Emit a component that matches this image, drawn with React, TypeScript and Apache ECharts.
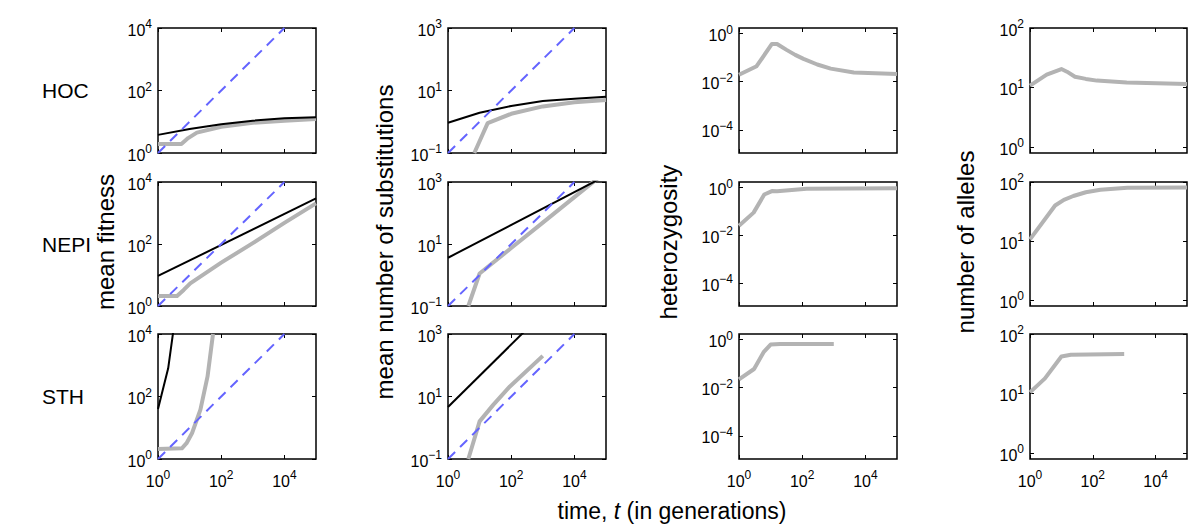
import React, { useEffect, useRef } from 'react';
import * as echarts from 'echarts';

const FONT = '"Liberation Sans", Arial, Helvetica, sans-serif';

// ---- labels ----
const rowNames = ['HOC', 'NEPI', 'STH'];
const yTitles = ['mean fitness', 'mean number of substitutions', 'heterozygosity', 'number of alleles'];

// ---- axes ----
const xRange = [1, 1e5];
const xTickValues = [1, 100, 10000];
const yRanges = [[1, 1e4], [0.1, 1000], [1.1e-5, 1.7], [0.8, 100]];
const yTickValues = [[1, 100, 10000], [0.1, 10, 1000], [1e-4, 1e-2, 1], [1, 10, 100]];

// ---- reference (dashed) lines ----
const refFitness = [[1, 1], [1e4, 1e4]];
const refSubst = [[1, 0.1], [1e4, 1000]];

// ---- HOC ----
const hocFitnessBlack = [[1, 3.8], [10, 5.9], [100, 8.3], [1000, 10.8], [1e4, 12.9], [1e5, 14]];
const hocFitnessGray = [[1, 1.95], [5.5, 1.95], [9, 3.0], [17, 4.5], [100, 6.9], [1000, 9.3], [1e4, 10.8], [1e5, 12.3]];
const hocSubstBlack = [[1, 0.93], [10, 1.95], [100, 3.2], [1000, 4.6], [1e4, 5.4], [1e5, 6.3]];
const hocSubstGray = [[6.8, 0.1], [18, 0.9], [100, 1.8], [1000, 3.1], [1e4, 4.2], [1e5, 5.0]];
const hocHetGray = [[1, 0.0195], [3.6, 0.044], [11, 0.37], [16, 0.37], [32, 0.21], [60, 0.13], [110, 0.089], [300, 0.052], [800, 0.035], [4300, 0.024], [1e5, 0.021]];
const hocAllelesGray = [[1, 10.8], [3.4, 16.5], [10, 20.5], [15, 18.5], [27, 15.2], [60, 14], [135, 13.1], [1200, 12.2], [1e5, 11.5]];

// ---- NEPI ----
const nepiFitnessBlack = [[1, 9.3], [1e5, 2950]];
const nepiFitnessGray = [[1, 2.1], [4, 2.1], [6.5, 3.3], [10.5, 5.4], [100, 25], [1000, 107], [1e4, 480], [1e5, 2050]];
const nepiSubstBlack = [[1, 3.6], [1e5, 1600]];
const nepiSubstGray = [[4.4, 0.1], [10, 1.12], [100, 7.4], [1000, 49], [1e4, 324], [1e5, 2140]];
const nepiHetGray = [[1, 0.025], [2.9, 0.089], [6.3, 0.51], [11, 0.71], [16, 0.7], [138, 0.89], [1e5, 0.93]];
const nepiAllelesGray = [[1, 10.7], [6.3, 40], [12, 50], [24, 58], [60, 67], [174, 74], [1260, 80], [1e5, 81]];

// ---- STH ----
const sthFitnessBlack = [[1, 40], [2.1, 800], [3.0, 11000]];
const sthFitnessGray = [[1, 2.1], [5.7, 2.2], [8, 3.2], [12, 6.8], [22, 38], [37, 440], [55, 10000]];
const sthSubstBlack = [[1, 4.6], [1000, 4600]];
const sthSubstGray = [[4.4, 0.1], [10, 1.6], [27, 5.4], [91, 21], [1000, 200]];
const sthHetGray = [[1, 0.022], [3, 0.06], [6, 0.3], [10, 0.62], [20, 0.65], [1000, 0.66]];
const sthAllelesGray = [[1, 10.5], [3, 18], [10, 42], [20, 45], [1000, 46]];

const panels: { gray: number[][]; black?: number[][]; dashed?: number[][] }[][] = [
  [
    { gray: hocFitnessGray, black: hocFitnessBlack, dashed: refFitness },
    { gray: hocSubstGray, black: hocSubstBlack, dashed: refSubst },
    { gray: hocHetGray },
    { gray: hocAllelesGray },
  ],
  [
    { gray: nepiFitnessGray, black: nepiFitnessBlack, dashed: refFitness },
    { gray: nepiSubstGray, black: nepiSubstBlack, dashed: refSubst },
    { gray: nepiHetGray },
    { gray: nepiAllelesGray },
  ],
  [
    { gray: sthFitnessGray, black: sthFitnessBlack, dashed: refFitness },
    { gray: sthSubstGray, black: sthSubstBlack, dashed: refSubst },
    { gray: sthHetGray },
    { gray: sthAllelesGray },
  ],
];

// ---- layout ----
const colLeft = [158, 448, 739, 1030];
const colWidth = [158, 158, 158, 157];
const rowTop = [28, 182, 334];
const rowHeight = [125, 124, 125];

const supLabel = (v: number) => {
  const e = Math.round(Math.log10(v));
  return `{b|10}{s|${e < 0 ? '\u2212' + -e : e}}`;
};

const labelRich = {
  b: { fontSize: 16, fontFamily: FONT, color: '#000', lineHeight: 20, verticalAlign: 'bottom' },
  s: { fontSize: 12, fontFamily: FONT, color: '#000', lineHeight: 12, padding: [0, 0, 8, 0], verticalAlign: 'top' },
};

function buildOption() {
  const grid: any[] = [];
  const xAxis: any[] = [];
  const yAxis: any[] = [];
  const series: any[] = [];
  let gi = 0;
  for (let r = 0; r < 3; r++) {
    for (let c = 0; c < 4; c++) {
      grid.push({
        left: colLeft[c],
        top: rowTop[r],
        width: colWidth[c],
        height: rowHeight[r],
        show: true,
        borderColor: '#000',
        borderWidth: 1.5,
        backgroundColor: 'transparent',
        containLabel: false,
      });
      const tick = { show: true, inside: true, length: 4, lineStyle: { color: '#000', width: 1 } };
      const baseX = {
        type: 'log',
        logBase: 10,
        gridIndex: gi,
        min: xRange[0],
        max: xRange[1],
        axisLine: { show: false },
        splitLine: { show: false },
        axisTick: { ...tick, customValues: xTickValues },
      };
      xAxis.push({
        ...baseX,
        position: 'bottom',
        axisLabel: {
          show: r === 2,
          customValues: xTickValues,
          formatter: supLabel,
          rich: labelRich,
          margin: 10,
        },
      });
      xAxis.push({ ...baseX, position: 'top', axisLabel: { show: false } });
      const baseY = {
        type: 'log',
        logBase: 10,
        gridIndex: gi,
        min: yRanges[c][0],
        max: yRanges[c][1],
        axisLine: { show: false },
        splitLine: { show: false },
        axisTick: { ...tick, customValues: yTickValues[c] },
      };
      yAxis.push({
        ...baseY,
        position: 'left',
        axisLabel: {
          show: true,
          customValues: yTickValues[c],
          formatter: supLabel,
          rich: labelRich,
          margin: 6,
        },
      });
      yAxis.push({ ...baseY, position: 'right', axisLabel: { show: false } });

      const p = panels[r][c];
      series.push({
        type: 'line',
        xAxisIndex: 2 * gi,
        yAxisIndex: 2 * gi,
        data: p.gray,
        symbol: 'none',
        smooth: false,
        lineStyle: { color: '#b3b3b3', width: 4, join: 'round' },
        z: 2,
      });
      if (p.black) {
        series.push({
          type: 'line',
          xAxisIndex: 2 * gi,
          yAxisIndex: 2 * gi,
          data: p.black,
          symbol: 'none',
          lineStyle: { color: '#000', width: 2 },
          z: 3,
        });
      }
      if (p.dashed) {
        series.push({
          type: 'line',
          xAxisIndex: 2 * gi,
          yAxisIndex: 2 * gi,
          data: p.dashed,
          symbol: 'none',
          lineStyle: { color: '#6464ff', width: 2, type: [10, 7] },
          z: 4,
        });
      }
      gi++;
    }
  }

  const rowCenters = rowTop.map((t, i) => t + rowHeight[i] / 2);
  const graphic: any[] = [];
  rowNames.forEach((n, i) => {
    graphic.push({
      type: 'text',
      x: 42,
      y: rowCenters[i],
      style: { text: n, fontSize: 21, fontFamily: FONT, fill: '#000', align: 'left', verticalAlign: 'middle' },
    });
  });
  const titleX = [105, 384, 668, 965];
  yTitles.forEach((t, i) => {
    graphic.push({
      type: 'text',
      x: titleX[i],
      y: 242,
      rotation: Math.PI / 2,
      style: { text: t, fontSize: 24, fontFamily: FONT, fill: '#000', align: 'center', verticalAlign: 'middle' },
    });
  });
  graphic.push({
    type: 'text',
    x: 672,
    y: 511,
    style: {
      text: '{n|time, }{i|t}{n| (in generations)}',
      rich: {
        n: { fontSize: 23, fontFamily: FONT, fill: '#000', color: '#000' },
        i: { fontSize: 23, fontFamily: FONT, fontStyle: 'italic', fill: '#000', color: '#000' },
      },
      align: 'center',
      verticalAlign: 'middle',
    },
  });

  return {
    animation: false,
    backgroundColor: '#fff',
    grid,
    xAxis,
    yAxis,
    series,
    graphic,
  };
}

export default function App() {
  const ref = useRef<HTMLDivElement>(null);
  useEffect(() => {
    if (!ref.current) return;
    const chart = echarts.init(ref.current, undefined, { renderer: 'svg' });
    chart.setOption(buildOption() as any);
    return () => chart.dispose();
  }, []);
  return <div ref={ref} style={{ position: 'fixed', left: 0, top: 0, width: 1188, height: 525 }} />;
}
